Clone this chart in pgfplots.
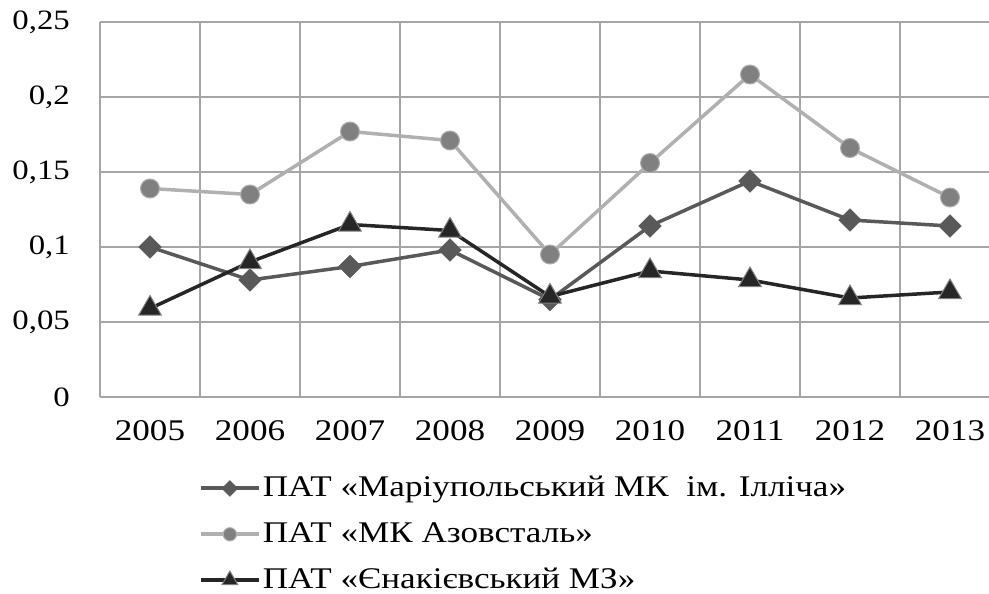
\documentclass[border=0pt]{standalone}
\usepackage{fontspec}
\setmainfont{Liberation Serif}[FakeStretch=1.17]
\usepackage{pgfplots}
\pgfplotsset{compat=1.18}
\definecolor{gridgray}{HTML}{A6A6A6}
\definecolor{sone}{HTML}{595959}
\definecolor{stwoline}{HTML}{B0B0B0}
\definecolor{stwomark}{HTML}{808080}
\definecolor{sthree}{HTML}{262626}
\begin{document}
\fontsize{28bp}{34bp}\selectfont
\begin{tikzpicture}
\begin{axis}[
  at={(0,0)}, anchor=south west,
  scale only axis,
  width=889bp, height=375bp,
  xmin=-0.5, xmax=8.39,
  ymin=0, ymax=0.25,
  axis x line*=bottom, axis y line*=left,
  axis line style={color=gridgray, line width=1.5bp},
  xtick={0,...,8},
  xticklabels={2005,2006,2007,2008,2009,2010,2011,2012,2013},
  minor xtick={-0.5,0.5,1.5,2.5,3.5,4.5,5.5,6.5,7.5},
  xmajorgrids=false, xminorgrids=true,
  ytick={0,0.05,0.1,0.15,0.2,0.25},
  yticklabels={0,{0,05},{0,1},{0,15},{0,2},{0,25}},
  ymajorgrids=true,
  grid style={color=gridgray, line width=1.5bp},
  minor grid style={color=gridgray, line width=1.5bp},
  major tick length=0pt, minor tick length=0pt,
  tick style={draw=none},
  xticklabel style={anchor=center, inner sep=0pt, yshift=-33.5bp, font=\fontsize{30bp}{36bp}\selectfont},
  yticklabel style={anchor=east, inner sep=0pt, xshift=-30bp, font=\fontsize{28bp}{34bp}\selectfont},
  clip=false,
  legend style={at={(0.111,-0.205)}, anchor=north west, draw=none, fill=none,
    font=\fontsize{30bp}{36bp}\selectfont, row sep=17.5bp, inner sep=0pt},
  legend cell align=left,
  legend image code/.code={\draw[mark repeat=2,mark phase=2,#1,line width=4bp,/tikz/every mark/.append style={scale=0.7}] plot coordinates {(0bp,0bp) (29bp,0bp) (58bp,0bp)};},
]
\addplot[color=sone, line width=3.5bp, mark=square*, mark size=8bp,
  mark options={rotate=45, fill=sone, draw=sone, line width=0.5bp}]
  coordinates {(0,0.100) (1,0.078) (2,0.087) (3,0.098) (4,0.065) (5,0.114) (6,0.144) (7,0.118) (8,0.114)};
\addlegendentry{ПАТ «Маріупольський МК\ \ ім. Ілліча»}
\addplot[color=stwoline, line width=3.5bp, mark=*, mark size=9.5bp,
  mark options={fill=stwomark, draw=stwoline, line width=1bp}]
  coordinates {(0,0.139) (1,0.135) (2,0.177) (3,0.171) (4,0.095) (5,0.156) (6,0.215) (7,0.166) (8,0.133)};
\addlegendentry{ПАТ «МК Азовсталь»}
\addplot[color=sthree, line width=3.5bp, mark=triangle*, mark size=13bp,
  mark options={fill=sthree, draw=stwomark, line width=1bp}]
  coordinates {(0,0.059) (1,0.090) (2,0.115) (3,0.111) (4,0.067) (5,0.084) (6,0.078) (7,0.066) (8,0.070)};
\addlegendentry{ПАТ «Єнакієвський МЗ»}
\end{axis}
\pgfresetboundingbox
\path[use as bounding box] (-100bp,-197bp) rectangle (889bp,397bp);
\end{tikzpicture}
\end{document}
